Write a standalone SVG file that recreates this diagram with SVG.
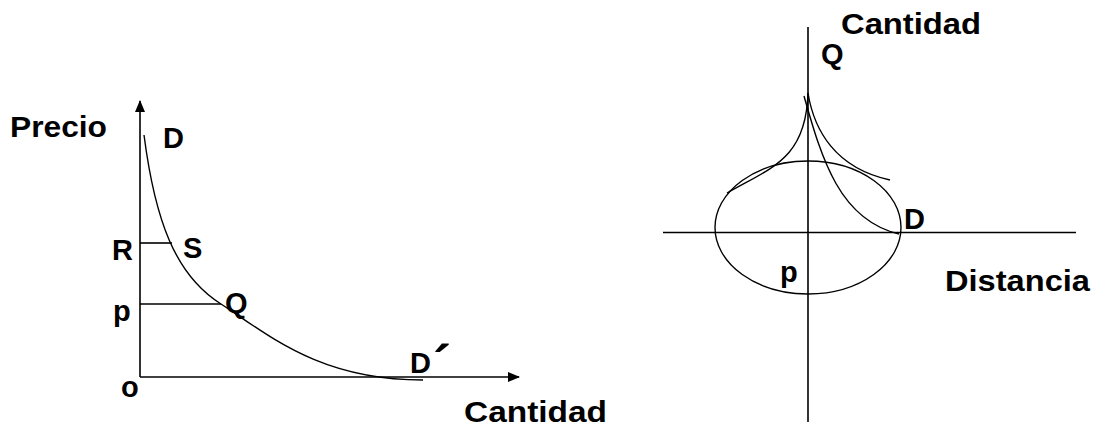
<svg xmlns="http://www.w3.org/2000/svg" width="1095" height="430" viewBox="0 0 1095 430">
<style>
.lbl{font-family:"Liberation Sans",Arial,sans-serif;font-weight:bold;font-size:29px;fill:#000}
.ax{stroke:#000;stroke-width:1.6;fill:none}
.cv{stroke:#000;stroke-width:1.4;fill:none}
</style>
<defs>
<marker id="arr" viewBox="0 0 12 10" refX="11" refY="5" markerWidth="12" markerHeight="10" markerUnits="userSpaceOnUse" orient="auto">
<path d="M0,0 L12,5 L0,10 Z" fill="#000"/>
</marker>
</defs>
<rect width="1095" height="430" fill="#fff"/>
<g id="connectors">
<line class="ax" x1="140" y1="377" x2="140" y2="101" marker-end="url(#arr)"/>
<line class="ax" x1="140" y1="377" x2="519" y2="377" marker-end="url(#arr)"/>
<line class="ax" x1="140" y1="243" x2="172" y2="243"/>
<line class="ax" x1="140" y1="304" x2="221" y2="304"/>
<path class="cv" d="M144,135 C155,220 175,275 221,304 C270,336 320,380 423,380"/>
<line class="ax" x1="808" y1="27" x2="808" y2="422"/>
<line class="ax" x1="663" y1="232.5" x2="1076" y2="232.5"/>
<ellipse class="cv" cx="808" cy="227.5" rx="93" ry="66.5"/>
<path class="cv" d="M808,93 C806,160 770,168 727,193"/>
<path class="cv" d="M808,93 C814,130 835,168 890,180"/>
<path class="cv" d="M804,96 C822,160 840,220 899,234"/>
</g>
<g id="label-precio"><text class="lbl" x="10" y="137" textLength="97" lengthAdjust="spacingAndGlyphs">Precio</text></g>
<g id="label-D"><text class="lbl" x="163" y="148">D</text></g>
<g id="label-R"><text class="lbl" x="112" y="260">R</text></g>
<g id="label-S"><text class="lbl" x="183" y="258">S</text></g>
<g id="label-p"><text class="lbl" x="113" y="321">p</text></g>
<g id="label-Q"><text class="lbl" x="225" y="313">Q</text></g>
<g id="label-Dprime"><text class="lbl" x="410" y="373">D<tspan font-size="54" dx="2" dy="10">´</tspan></text></g>
<g id="label-o"><text class="lbl" x="121" y="397">o</text></g>
<g id="label-cantidad-left"><text class="lbl" x="464" y="422" textLength="143" lengthAdjust="spacingAndGlyphs">Cantidad</text></g>
<g id="label-cantidad-right"><text class="lbl" x="841" y="34" textLength="140" lengthAdjust="spacingAndGlyphs">Cantidad</text></g>
<g id="label-Q-right"><text class="lbl" x="821" y="64">Q</text></g>
<g id="label-D-right"><text class="lbl" x="904" y="229">D</text></g>
<g id="label-p-right"><text class="lbl" x="780" y="282">p</text></g>
<g id="label-distancia"><text class="lbl" x="945" y="291" textLength="145" lengthAdjust="spacingAndGlyphs">Distancia</text></g>
</svg>
